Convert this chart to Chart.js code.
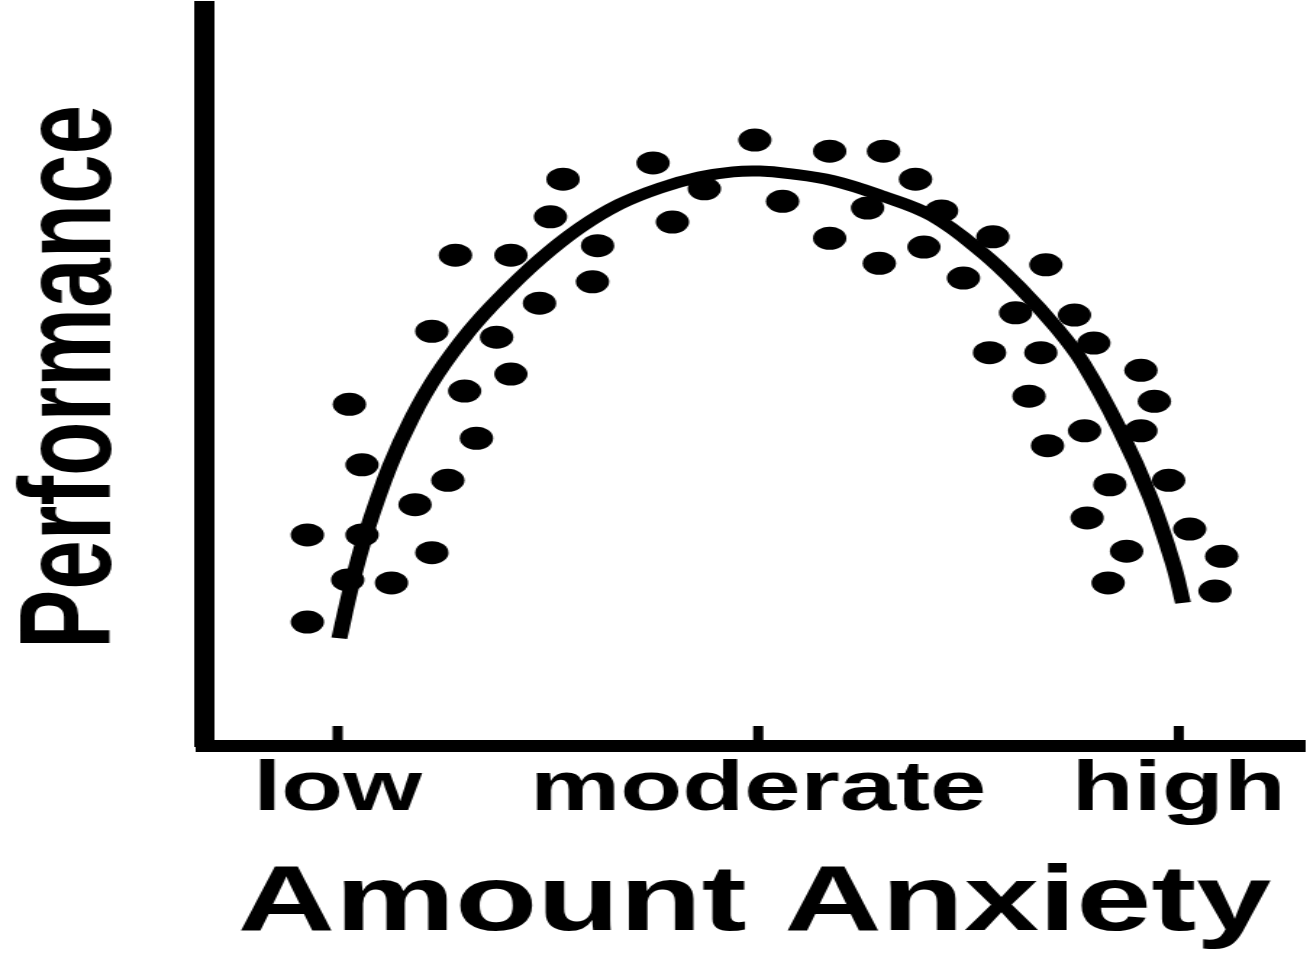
<!DOCTYPE html>
<html>
<head>
<meta charset="utf-8">
<script src="https://cdn.jsdelivr.net/npm/chart.js@4/dist/chart.umd.min.js"></script>
<style>
  html, body { margin: 0; padding: 0; background: #ffffff; overflow: hidden; }
  #wrap { position: absolute; left: 0; top: 0; width: 904px; height: 955px; transform: scaleX(1.449115); transform-origin: 0 0; }
</style>
</head>
<body>
<div id="wrap"><canvas id="c"></canvas></div>
<script>
// Anxiety (0 = low, 5 = moderate, 10 = high) and performance of each observation
const anxietyX = [-0.36, -0.36, 0.14, 0.29, 0.29, 0.12, 0.64, 0.92, 1.12, 1.12, 1.31, 1.40, 1.51, 1.65, 1.89, 2.06, 2.06, 2.40, 2.53, 2.68, 3.09, 3.03, 3.75, 3.98, 4.36, 4.96, 5.29, 5.85, 5.85, 6.30, 6.49, 6.44, 6.87, 6.97, 7.18, 7.44, 7.79, 7.75, 8.06, 8.22, 8.42, 8.36, 8.44, 8.76, 8.88, 8.99, 8.91, 9.18, 9.38, 9.16, 9.55, 9.71, 9.55, 9.88, 10.13, 10.51, 10.43];
const performanceY = [1.68, 2.86, 4.63, 3.81, 2.86, 2.25, 2.21, 3.27, 5.62, 2.62, 3.60, 6.65, 4.81, 4.17, 5.54, 6.65, 5.04, 6.00, 7.17, 7.68, 6.78, 6.29, 7.90, 7.10, 7.55, 8.21, 7.38, 8.06, 6.88, 7.29, 8.06, 6.54, 7.68, 6.76, 7.25, 6.34, 6.90, 5.33, 5.87, 4.74, 6.52, 5.33, 4.07, 5.84, 4.27, 5.46, 3.09, 3.54, 2.64, 2.21, 5.09, 4.67, 4.27, 3.60, 2.94, 2.57, 2.10];

// Fitted inverted-U curve
const curveX = [0.02, 0.17, 0.34, 0.62, 0.89, 1.18, 1.57, 1.93, 2.40, 2.88, 3.35, 3.83, 4.30, 4.70, 5.02, 5.34, 5.89, 6.48, 7.07, 7.67, 8.11, 8.55, 8.86, 9.30, 9.66, 9.93, 10.05];
const curveY = [1.46, 2.20, 2.89, 3.79, 4.46, 5.03, 5.63, 6.08, 6.59, 7.02, 7.34, 7.56, 7.71, 7.78, 7.79, 7.76, 7.66, 7.45, 7.18, 6.68, 6.21, 5.66, 5.19, 4.28, 3.37, 2.48, 1.94];

// Axis ticks
const tickValues = [0, 5, 10];
const tickLabels = ['low', 'moderate', 'high'];
const xTitle = 'Amount Anxiety';
const yTitle = 'Performance';

const FONT = '"Liberation Sans", Arial, Helvetica, sans-serif';

const innerTicks = {
  id: 'innerTicks',
  afterDraw(chart) {
    const sx = chart.scales.x;
    const ctx = chart.ctx;
    const bottom = chart.chartArea.bottom;
    ctx.save();
    ctx.fillStyle = '#000000';
    sx.ticks.forEach(t => {
      const px = sx.getPixelForValue(t.value);
      ctx.fillRect(px - 3.5, bottom - 20, 7, 20);
    });
    ctx.restore();
  }
};

const dataPoints = anxietyX.map((x, i) => ({ x: x, y: performanceY[i] }));
const curvePoints = curveX.map((x, i) => ({ x: x, y: curveY[i] }));

new Chart(document.getElementById('c'), {
  type: 'scatter',
  data: {
    datasets: [
      {
        label: 'fit',
        data: curvePoints,
        showLine: true,
        borderColor: '#000000',
        borderWidth: 11,
        pointRadius: 0,
        tension: 0.4,
        fill: false,
        order: 2
      },
      {
        label: 'observations',
        data: dataPoints,
        showLine: false,
        pointStyle: 'circle',
        pointRadius: 11.5,
        pointBackgroundColor: '#000000',
        pointBorderColor: '#000000',
        pointBorderWidth: 0,
        order: 1
      }
    ]
  },
  options: {
    responsive: true,
    maintainAspectRatio: false,
    animation: false,
    events: [],
    layout: { autoPadding: false, padding: { top: 8, right: 3.5, bottom: 0, left: 0 } },
    plugins: { legend: { display: false }, tooltip: { enabled: false } },
    scales: {
      x: {
        type: 'linear',
        min: -1.59,
        max: 11.5,
        grid: { display: false, drawTicks: false },
        border: { display: true, color: '#000000', width: 12 },
        afterBuildTicks: (scale) => { scale.ticks = tickValues.map(v => ({ value: v })); },
        afterFit: (scale) => { scale.height = 209; },
        ticks: {
          autoSkip: false,
          maxRotation: 0,
          minRotation: 0,
          padding: 3,
          color: '#000000',
          font: { family: FONT, size: 70, weight: 'bold', lineHeight: 1.2 },
          callback: (value) => {
            const i = tickValues.indexOf(value);
            return i >= 0 ? tickLabels[i] : '';
          }
        },
        title: {
          display: true,
          text: xTitle,
          color: '#000000',
          font: { family: FONT, size: 93, weight: 'bold', lineHeight: 1 },
          padding: { top: 0, bottom: 4 }
        }
      },
      y: {
        type: 'linear',
        min: 0,
        max: 10,
        grid: { display: false, drawTicks: false },
        border: { display: true, color: '#000000', width: 14 },
        ticks: { display: false },
        afterFit: (scale) => { scale.width = 140.7; },
        title: {
          display: true,
          text: yTitle,
          color: '#000000',
          font: { family: FONT, size: 89, weight: 'bold', lineHeight: 1 },
          padding: { top: 7, bottom: 0 }
        }
      }
    }
  },
  plugins: [innerTicks]
});
</script>
</body>
</html>
